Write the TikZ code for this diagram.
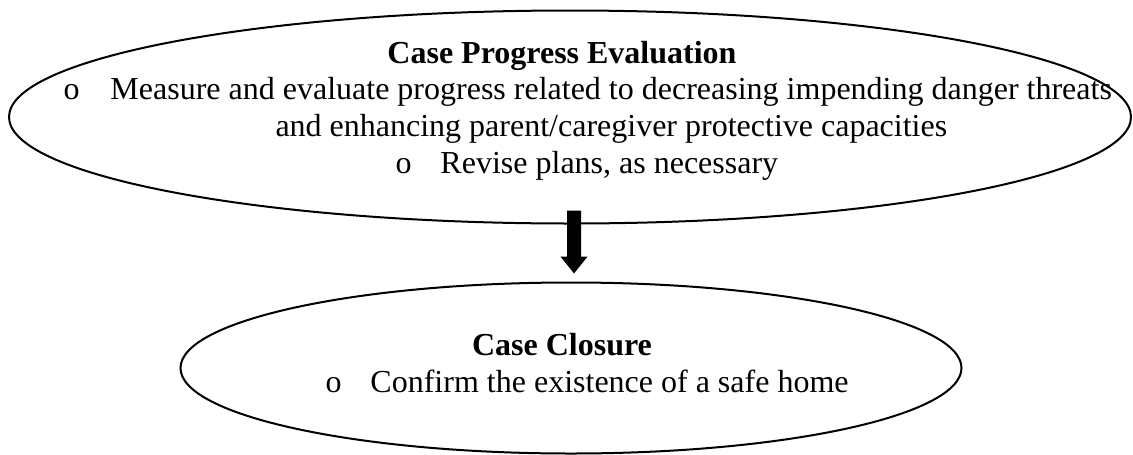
\documentclass[tikz,border=0pt]{standalone}
\usepackage{fontspec}
\setmainfont{Liberation Serif}
\usepackage{tikz}
\usetikzlibrary{arrows.meta,shapes,positioning}

\tikzset{
  stageEll/.style={draw, ellipse, line width=0.8pt, inner sep=0pt},
  stageText/.style={anchor=base west, inner sep=0pt, font=\fontsize{12.8}{15.6}\selectfont},
  stageTitle/.style={anchor=base, inner sep=0pt, font=\fontsize{12.8}{15.6}\selectfont\bfseries},
  flowArrow/.style={line width=5.6pt, -{Triangle[width=10.4pt,length=6.8pt]}}
}
\newcommand{\bulletO}{\makebox[18pt][l]{o}}

\begin{document}
\begin{tikzpicture}[x=0.4pt, y=-0.4pt]
	\useasboundingbox (0,0) rectangle (1133,454);

	% ellipses
	\node[stageEll, minimum width=448.8pt, minimum height=85.2pt] (topEll) at (570,117) {};
	\node[stageEll, minimum width=312.4pt, minimum height=68.4pt] (botEll) at (571,368) {};

	% texts of the first stage
	\node[stageTitle] (evalTitle) at (562,63) {Case Progress Evaluation};
	\node[stageText] (evalItemA) at (63,99) {\makebox[18.8pt][l]{o}Measure and evaluate progress related to decreasing impending danger threats};
	\node[stageText] (evalItemAcont) at (275,136) {and enhancing parent/caregiver protective capacities};
	\node[stageText] (evalItemB) at (395,173) {\bulletO Revise plans, as necessary};

	% texts of the second stage
	\node[stageTitle] (closeTitle) at (562,355) {Case Closure};
	\node[stageText] (closeItem) at (325,392) {\bulletO Confirm the existence of a safe home};

	% arrow
	\draw[flowArrow] ([xshift=1.6pt,yshift=5.6pt]topEll.south) -- ([xshift=1.2pt,yshift=3.2pt]botEll.north);
\end{tikzpicture}
\end{document}
